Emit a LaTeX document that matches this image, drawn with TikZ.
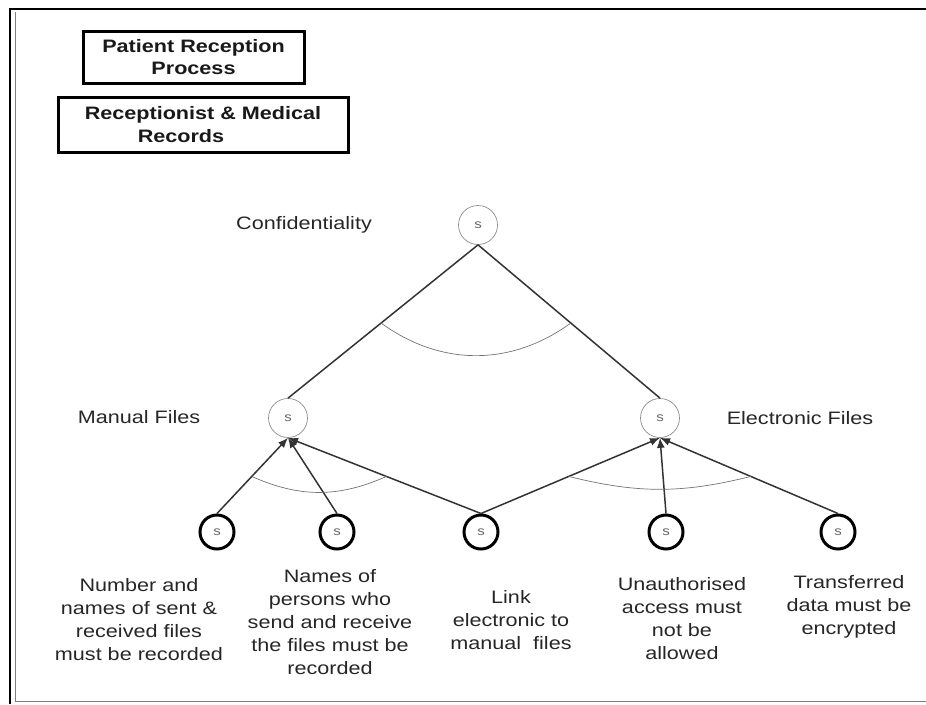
\documentclass[tikz,border=0pt]{standalone}
\usepackage{fontspec}
\setmainfont{Liberation Sans}[FakeStretch=1.2]
\usetikzlibrary{arrows.meta}

\begin{document}
\begin{tikzpicture}[x=1pt,y=-1pt,
	soft/.style={circle,draw=black!45,line width=0.7pt,minimum size=39pt,inner sep=0pt,font=\fontsize{12.5}{12.5}\selectfont\color{black!60}},
	leaf/.style={circle,draw,line width=3pt,minimum size=34pt,inner sep=0pt,font=\fontsize{12.5}{12.5}\selectfont\color{black!60}},
	lbl/.style={align=center,font=\fontsize{18}{23}\selectfont,text=black!85},
	title/.style={draw,line width=3pt,align=center,font=\fontsize{18}{22.5}\selectfont\bfseries,text=black!90},
	conn/.style={draw=black!80,line width=1.5pt},
	andarc/.style={draw=black!55,line width=0.7pt}]
	\useasboundingbox (0,0) rectangle (926,704);
	% page frame
	\draw[line width=2.5pt] (10,704) -- (10,9) -- (926,9);
	\draw[black!50,line width=0.8pt] (15,12) -- (15,701) -- (926,701);

	\node[title,minimum width=221pt,minimum height=52pt] (Proc) at (193.5,57) {Patient Reception\\Process};
	\node[title,minimum width=290pt,minimum height=55pt,align=left] (Role) at (203,124.5) {Receptionist \& Medical\\\hspace*{53pt}Records};

	% goals
	\node[soft] (Conf) at (478,225) {s};
	\node[soft] (Manual) at (288,418) {s};
	\node[soft] (Elec) at (660,418) {s};
	\node[lbl] (ConfTxt) at (304,225) {Confidentiality};
	\node[lbl] (ManualTxt) at (139,417) {Manual Files};
	\node[lbl] (ElecTxt) at (800,418) {Electronic Files};

	\node[leaf] (NumSent) at (217,532) {s};
	\node[leaf] (NamePers) at (337,532) {s};
	\node[leaf] (Link) at (481,532) {s};
	\node[leaf] (Unauth) at (666,532) {s};
	\node[leaf] (Transf) at (838,532) {s};
	\node[lbl] (NumSentTxt) at (139,620) {Number and\\names of sent \&\\received files\\must be recorded};
	\node[lbl] (NamePersTxt) at (330,622) {Names of\\persons who\\send and receive\\the files must be\\recorded};
	\node[lbl] (LinkTxt) at (511,620) {Link\\electronic to\\manual\ \ files};
	\node[lbl] (UnauthTxt) at (682,619) {Unauthorised\\access must\\not be\\allowed};
	\node[lbl] (TransfTxt) at (849,607) {Transferred\\data must be\\encrypted};

	% decomposition of the top goal
	\draw[conn] (Conf.south) -- (Manual.north);
	\draw[conn] (Conf.south) -- (Elec.north);
	\path (Conf.south) -- (Manual.north) coordinate[pos=0.51] (AndT1);
	\path (Conf.south) -- (Elec.north) coordinate[pos=0.51] (AndT2);
	\draw[andarc] (AndT1) to[bend right=36] (AndT2);

	% contributions from the requirements
	\draw[conn,-{Latex[length=10pt,width=8pt]}] (NumSent.north) -- (Manual.south);
	\draw[conn,-{Latex[length=10pt,width=8pt]}] (NamePers.north) -- (Manual.south);
	\draw[conn,-{Latex[length=10pt,width=8pt]}] (Link.north) -- (Manual.south);
	\draw[conn,-{Latex[length=10pt,width=8pt]}] (Link.north) -- (Elec.south);
	\draw[conn,-{Latex[length=10pt,width=8pt]}] (Unauth.north) -- (Elec.south);
	\draw[conn,-{Latex[length=10pt,width=8pt]}] (Transf.north) -- (Elec.south);
	\path (NumSent.north) -- (Manual.south) coordinate[pos=0.49] (AndM1);
	\path (Link.north) -- (Manual.south) coordinate[pos=0.49] (AndM2);
	\path (Link.north) -- (Elec.south) coordinate[pos=0.49] (AndE1);
	\path (Transf.north) -- (Elec.south) coordinate[pos=0.49] (AndE2);
	\draw[andarc] (AndM1) to[bend right=24] (AndM2);
	\draw[andarc] (AndE1) to[bend right=14] (AndE2);
\end{tikzpicture}
\end{document}
